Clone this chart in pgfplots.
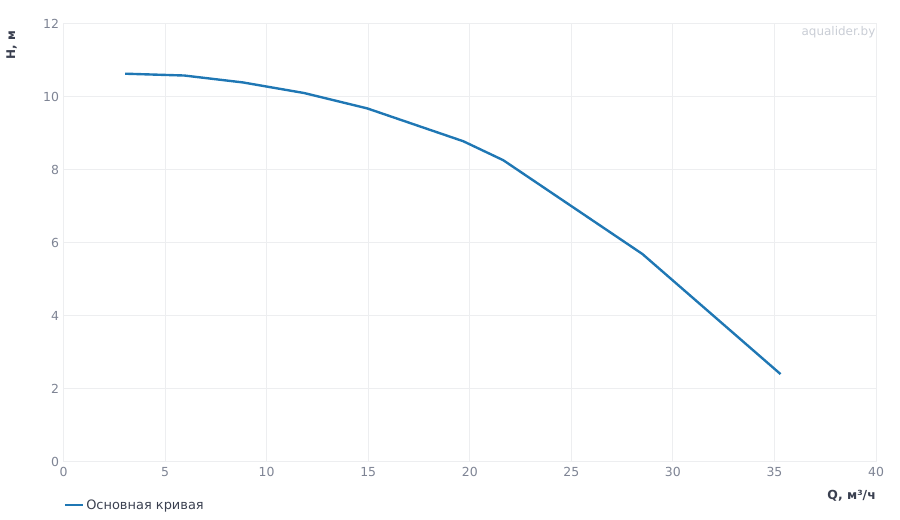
\documentclass[border=0pt]{standalone}
\usepackage{pgfplots}
\pgfplotsset{compat=1.18}
\usepackage{fontspec}
\setmainfont{DejaVu Sans}
\definecolor{curve}{HTML}{1F77B4}
\definecolor{gridc}{HTML}{EDEEF0}
\definecolor{tickc}{HTML}{7E8494}
\definecolor{labc}{HTML}{3A4050}
\definecolor{wm}{HTML}{C9CDD5}
\begin{document}
\begin{tikzpicture}
\path[use as bounding box] (0,0) rectangle (900bp,520bp);
\begin{axis}[
  at={(63.5bp,58.3bp)}, anchor=south west,
  width=812.5bp, height=438bp, scale only axis,
  xmin=0, xmax=40, ymin=0, ymax=12,
  xtick={0,5,...,40}, ytick={0,2,...,12},
  grid=major, major grid style={gridc, line width=0.8pt},
  axis line style={gridc, line width=0.8pt},
  tick style={draw=none},
  /pgf/number format/assume math mode=true,
  ticklabel style={font=\fontsize{12.5}{14}\selectfont, text=tickc},
  xticklabel style={yshift=-2bp},
  yticklabel style={xshift=-1bp},
  xlabel={Q, м³/ч},
  xlabel style={at={(rel axis cs:1,-0.078)}, anchor=east, font=\bfseries\fontsize{12.5}{14}\selectfont, text=labc, inner sep=0pt},
  ylabel={H, м},
  ylabel style={at={(rel axis cs:-0.064,0.951)}, anchor=center, font=\bfseries\fontsize{12}{14}\selectfont, text=labc, inner sep=0pt},
  legend style={at={(rel axis cs:0,-0.099)}, anchor=west, draw=none, fill=none, inner sep=0pt, font=\fontsize{13}{15}\selectfont, text=labc},
  legend cell align=left,
  legend image code/.code={\draw[#1, line width=2.6pt] (-2bp,0bp) -- (16bp,0bp);},
]
\addplot[curve, line width=2.4pt, line join=round] coordinates {
(3.03,10.63) (5.95,10.58) (8.84,10.39) (11.85,10.10) (14.95,9.68)
(19.68,8.78) (21.65,8.26) (28.50,5.69) (35.30,2.40)
};
\addlegendentry{Основная кривая}
\end{axis}
\node[anchor=east, text=wm, font=\fontsize{12}{14}\selectfont, inner sep=0pt] at (875.5bp,488bp) {aqualider.by};
\end{tikzpicture}
\end{document}
